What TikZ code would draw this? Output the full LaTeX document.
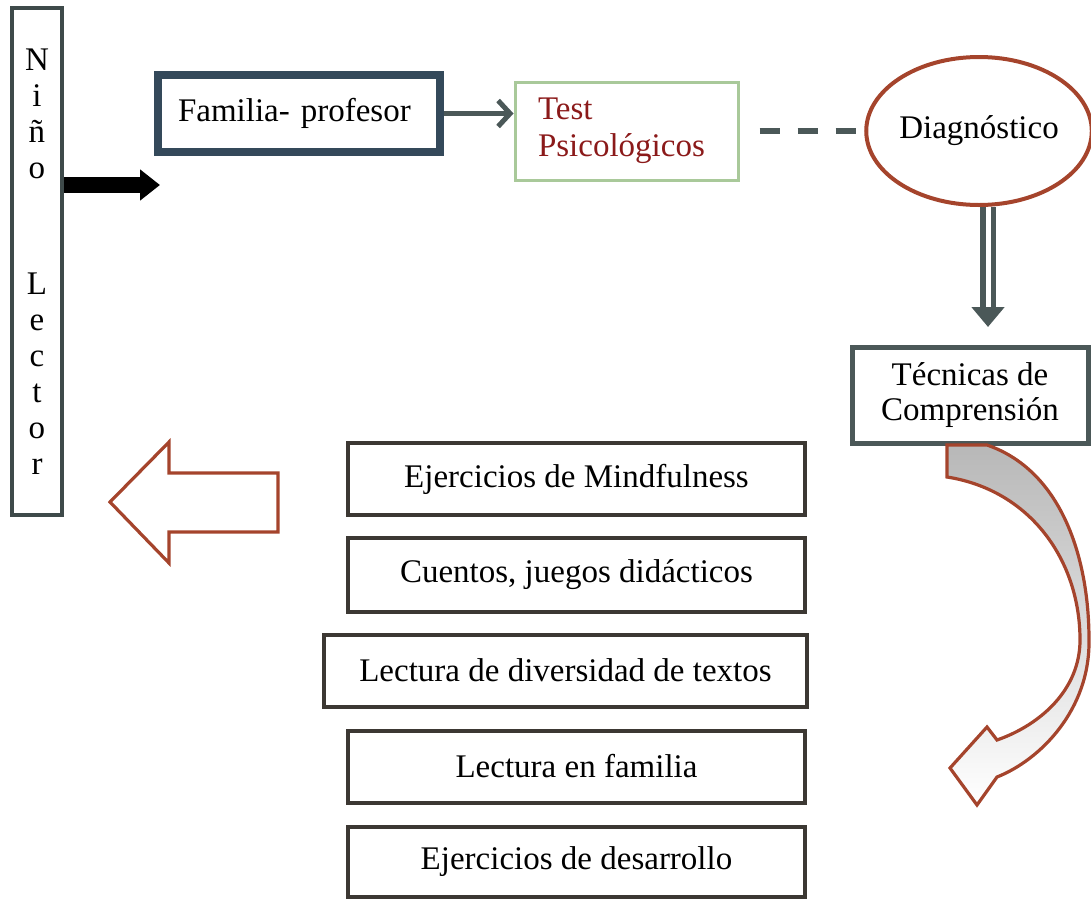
\documentclass[tikz,border=0pt]{standalone}
\usepackage{fontspec}
\setmainfont{Liberation Serif}
\usepackage{tikz}
\usepackage{xcolor}
\usetikzlibrary{
    arrows.meta,
    shapes,
    calc,
    positioning
}
\definecolor{ninogray}{HTML}{3E4A4A}
\definecolor{famblue}{HTML}{34495A}
\definecolor{testgreen}{HTML}{A9C99A}
\definecolor{testred}{HTML}{8B1A1A}
\definecolor{diagred}{HTML}{A5442C}
\definecolor{arrgray}{HTML}{4B5858}
\definecolor{listbrown}{HTML}{3C3833}
\newcommand{\txt}{\fontsize{16.5}{18.5}\selectfont}

\begin{document}
\begin{tikzpicture}[x=0.5pt, y=-0.5pt,
    every node/.style={font=\txt},
    listbox/.style={draw=listbrown, line width=2pt, minimum width=228.5pt, minimum height=36pt, inner sep=0pt},
    blockarrow/.style={draw=diagred, line width=1.6pt, line join=miter}]
                    \useasboundingbox (0, 0) rectangle (1091, 900);

                    \node[draw=ninogray, line width=2pt, minimum width=25pt, minimum height=253.5pt,
                          align=center, font=\fontsize{16.5}{18}\selectfont] (nino) at (37, 261.5)
                          {N\\i\\ñ\\o\\[40pt]L\\e\\c\\t\\o\\r};

                    \node[draw=famblue, line width=4pt, minimum height=38.5pt, text width=121pt,
                          inner xsep=10pt, align=left] (fam) at (299, 113.5) {Familia- profesor};

                    \node[draw=testgreen, line width=1.5pt, minimum height=49pt, text width=88.5pt,
                          inner xsep=11.5pt, align=left, text=testred,
                          font=\fontsize{16.5}{18.5}\selectfont] (test) at (626.5, 131) {Test\\Psicológicos};

                    \node[ellipse, draw=diagred, line width=2pt, minimum width=101pt, minimum height=74pt,
                          inner sep=0pt] (diag) at (979, 131) {Diagnóstico};

                    \node[draw=arrgray, line width=2.5pt, minimum width=118pt, minimum height=48pt,
                          align=center, inner sep=0pt, font=\fontsize{16.5}{17.5}\selectfont]
                          (tec) at (970, 395) {Técnicas de\\Comprensión};

                    \node[listbox] (l1) at (576.5, 479) {Ejercicios de Mindfulness};
                    \node[listbox, minimum height=37pt] (l2) at (576.5, 575) {Cuentos, juegos didácticos};
                    \node[listbox, minimum width=241.5pt] (l3) at (565.5, 670.5) {Lectura de diversidad de textos};
                    \node[listbox] (l4) at (576.5, 766.5) {Lectura en familia};
                    \node[listbox, minimum height=35pt] (l5) at (576.5, 862) {Ejercicios de desarrollo};

                    \coordinate (kidtip) at (160, 185);
                    \coordinate (dbltip) at (988, 327);

                    \draw[black, line width=8pt, -{Triangle[length=10pt, width=15pt]}]
                        (nino.east |- kidtip) -- (kidtip);
                    \draw[arrgray, line width=2.5pt, -{Straight Barb[length=6pt, width=13pt]}]
                        (fam.east) -- (fam.east -| test.west);
                    \draw[arrgray, line width=3pt, dash pattern=on 10pt off 9pt, shorten <=10pt]
                        (test.east) -- (diag.west);
                    \draw[arrgray, line width=8pt, -{Triangle[length=10pt, width=16pt]}]
                        (diag.south -| dbltip) -- (dbltip);
                    \draw[white, line width=2.5pt, shorten >=10pt]
                        (diag.south -| dbltip) -- (dbltip);

                    \draw[blockarrow, fill=white]
                        (110, 502) -- (169, 442) -- (169, 473) -- (278, 473) -- (278, 532)
                        -- (169, 532) -- (169, 563) -- cycle;

                    \path[blockarrow, top color=black!28, middle color=black!14, bottom color=white]
                        (947, 445) -- (947, 477) .. controls (1030, 490) and (1080, 560) .. (1080, 640)
                        .. controls (1080, 690) and (1040, 725) .. (997, 740) -- (987, 727)
                        -- (950, 768) -- (977, 805) -- (997, 777)
                        .. controls (1040, 760) and (1090, 710) .. (1089, 640)
                        .. controls (1089, 555) and (1060, 470) .. (987, 445) -- cycle;
                \end{tikzpicture}
\end{document}
